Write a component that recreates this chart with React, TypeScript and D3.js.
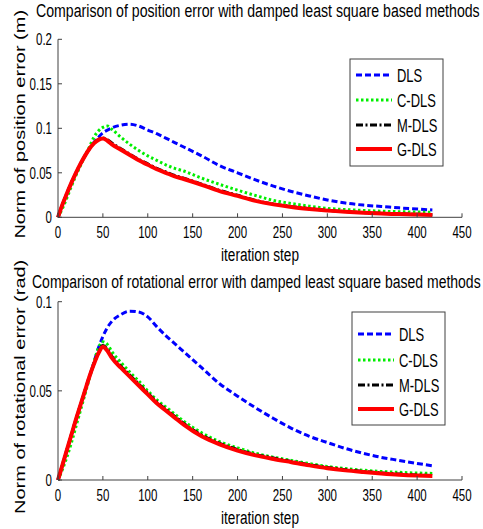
import React from "react";
import * as d3 from "d3";

const steps = [0,5,10,15,20,25,30,35,40,45,50,55,60,70,80,90,100,110,120,130,140,160,180,200,220,240,260,280,300,320,340,360,380,400,417];

const posDLS = [0,0.0145,0.027,0.039,0.05,0.06,0.069,0.077,0.084,0.09,0.095,0.098,0.1005,0.1035,0.1047,0.1025,0.098,0.094,0.089,0.084,0.079,0.069,0.058,0.05,0.042,0.035,0.029,0.024,0.0195,0.016,0.0137,0.0122,0.0106,0.0093,0.0082];
const posCDLS = [0,0.01,0.022,0.035,0.047,0.058,0.069,0.079,0.09,0.097,0.101,0.1025,0.099,0.09,0.082,0.075,0.069,0.064,0.059,0.055,0.052,0.044,0.037,0.0305,0.0245,0.019,0.0155,0.0125,0.01,0.0087,0.0077,0.0069,0.0063,0.0059,0.0056];
const posMDLS = [0,0.0145,0.027,0.039,0.05,0.06,0.069,0.077,0.083,0.0875,0.089,0.087,0.0835,0.077,0.071,0.065,0.06,0.055,0.051,0.047,0.044,0.0373,0.0302,0.0247,0.019,0.015,0.012,0.0097,0.0078,0.0064,0.0053,0.0045,0.0039,0.0034,0.003];
const posGDLS = [0,0.0145,0.027,0.039,0.05,0.06,0.069,0.077,0.083,0.087,0.0885,0.086,0.082,0.076,0.07,0.064,0.059,0.054,0.05,0.046,0.043,0.0365,0.0295,0.024,0.0185,0.0145,0.0115,0.0093,0.0075,0.0061,0.005,0.0042,0.0036,0.0031,0.0027];

const rotDLS = [0,0.0085,0.017,0.0255,0.034,0.042,0.05,0.058,0.066,0.074,0.0805,0.0855,0.089,0.0928,0.0947,0.0942,0.0915,0.086,0.081,0.0765,0.072,0.063,0.054,0.047,0.0405,0.0345,0.029,0.0245,0.021,0.0177,0.015,0.0127,0.011,0.0093,0.008];
const rotCDLS = [0,0.006,0.013,0.021,0.03,0.039,0.048,0.057,0.066,0.074,0.0775,0.076,0.072,0.066,0.0605,0.0555,0.05,0.045,0.041,0.037,0.033,0.0265,0.0215,0.018,0.015,0.0128,0.011,0.0092,0.0076,0.0064,0.0055,0.0048,0.0043,0.0039,0.0037];
const rotMDLS = [0,0.0085,0.017,0.0255,0.034,0.042,0.05,0.058,0.065,0.0715,0.0755,0.0733,0.0693,0.0638,0.0588,0.0538,0.0488,0.0438,0.0397,0.0357,0.0317,0.0252,0.0206,0.0171,0.0143,0.0123,0.0104,0.0086,0.007,0.0058,0.0048,0.004,0.0033,0.0028,0.0025];
const rotGDLS = [0,0.0085,0.017,0.0255,0.034,0.042,0.05,0.058,0.065,0.071,0.0748,0.0725,0.0685,0.063,0.058,0.053,0.048,0.043,0.039,0.035,0.031,0.0245,0.02,0.0165,0.0138,0.0118,0.01,0.0082,0.0066,0.0054,0.0045,0.0037,0.003,0.0025,0.0022];

const xTicks = [0,50,100,150,200,250,300,350,400,450];
const posYTicks = [0,0.05,0.1,0.15,0.2];
const rotYTicks = [0,0.05,0.1];
const methodNames = ["DLS","C-DLS","M-DLS","G-DLS"];

const styles = [
  { color: "#0000ff", width: 3, dash: "6,3" },
  { color: "#00ee00", width: 3, dash: "2.5,2.5" },
  { color: "#000000", width: 3, dash: "7,2.5,2,2.5" },
  { color: "#ff0000", width: 4, dash: null as string | null },
];

const FONT = "'Liberation Sans', Arial, sans-serif";

function T({ x, y, size = 16, anchor = "start", sx = 0.72, children }: any) {
  return (
    <text
      transform={`translate(${x},${y}) scale(${sx},1)`}
      fontSize={size}
      fontFamily={FONT}
      textAnchor={anchor}
      fill="#000"
    >
      {children}
    </text>
  );
}

function fmt(v: number) {
  return v === 0 ? "0" : String(+v.toFixed(2));
}

function Panel({ top, bottom, yMax, yTicks, series, title, titleX, titleY, titleSx, ylabel, legend }: any) {
  const x = d3.scaleLinear().domain([0, 450]).range([58, 462]);
  const y = d3.scaleLinear().domain([0, yMax]).range([bottom, top]);
  const line = d3
    .line<number>()
    .x((_, i) => x(steps[i]))
    .y((d) => y(d))
    .curve(d3.curveMonotoneX);
  const axisColor = "#404040";
  const cy = (top + bottom) / 2;
  return (
    <g>
      <T x={titleX} y={titleY} size={19} sx={titleSx}>{title}</T>
      <text
        transform={`translate(25,${cy - 4}) rotate(-90) scale(1,0.75)`}
        fontSize={20}
        fontFamily={FONT}
        textAnchor="middle"
      >
        {ylabel}
      </text>
      {series.map((s: number[], i: number) => (
        <path
          key={i}
          d={line(s) || ""}
          fill="none"
          stroke={styles[i].color}
          strokeWidth={styles[i].width}
          strokeDasharray={styles[i].dash || undefined}
          strokeLinejoin="round"
        />
      ))}
      <line x1={58} x2={462} y1={bottom} y2={bottom} stroke={axisColor} strokeWidth={1} />
      <line x1={58} x2={58} y1={bottom} y2={top} stroke={axisColor} strokeWidth={1} />
      {xTicks.map((t) => (
        <g key={t}>
          <line x1={x(t)} x2={x(t)} y1={bottom} y2={bottom - 4} stroke={axisColor} />
          <T x={x(t)} y={bottom + 21} anchor="middle" size={16}>{t}</T>
        </g>
      ))}
      {yTicks.map((t: number) => (
        <g key={t}>
          <line x1={58} x2={62} y1={y(t)} y2={y(t)} stroke={axisColor} />
          <T x={52} y={y(t) + 6} anchor="end" size={16}>{fmt(t)}</T>
        </g>
      ))}
      <T x={260} y={bottom + 44} size={18} sx={0.757} anchor="middle">iteration step</T>
      <rect x={legend.x} y={legend.y} width={legend.w} height={legend.h} fill="#fff" stroke={axisColor} strokeWidth={1} />
      {methodNames.map((n, i) => {
        const ly = legend.rows[i];
        return (
          <g key={n}>
            <line
              x1={legend.x + 6}
              x2={legend.x + 42}
              y1={ly}
              y2={ly}
              stroke={styles[i].color}
              strokeWidth={styles[i].width}
              strokeDasharray={styles[i].dash || undefined}
            />
            <T x={legend.x + 47} y={ly + 6.5} size={18} sx={0.72}>{n}</T>
          </g>
        );
      })}
    </g>
  );
}

export default function App() {
  return (
    <svg width={483} height={529} style={{ position: "absolute", left: 0, top: 0, background: "#fff" }}>
      <rect width={483} height={529} fill="#fff" />
      <Panel
        top={39.3}
        bottom={217.3}
        yMax={0.2}
        yTicks={posYTicks}
        series={[posDLS, posCDLS, posMDLS, posGDLS]}
        title="Comparison of position error with damped least square based methods"
        titleX={36}
        titleY={17}
        titleSx={0.744}
        ylabel="Norm of position error (m)"
        legend={{ x: 350, y: 59, w: 93, h: 107, rows: [75, 100, 125, 149] }}
      />
      <Panel
        top={301.7}
        bottom={480}
        yMax={0.1}
        yTicks={rotYTicks}
        series={[rotDLS, rotCDLS, rotMDLS, rotGDLS]}
        title="Comparison of rotational error with damped least square based methods"
        titleX={32}
        titleY={288}
        titleSx={0.737}
        ylabel="Norm of rotational error (rad)"
        legend={{ x: 352, y: 312, w: 93, h: 113, rows: [334, 360, 385, 409] }}
      />
    </svg>
  );
}
